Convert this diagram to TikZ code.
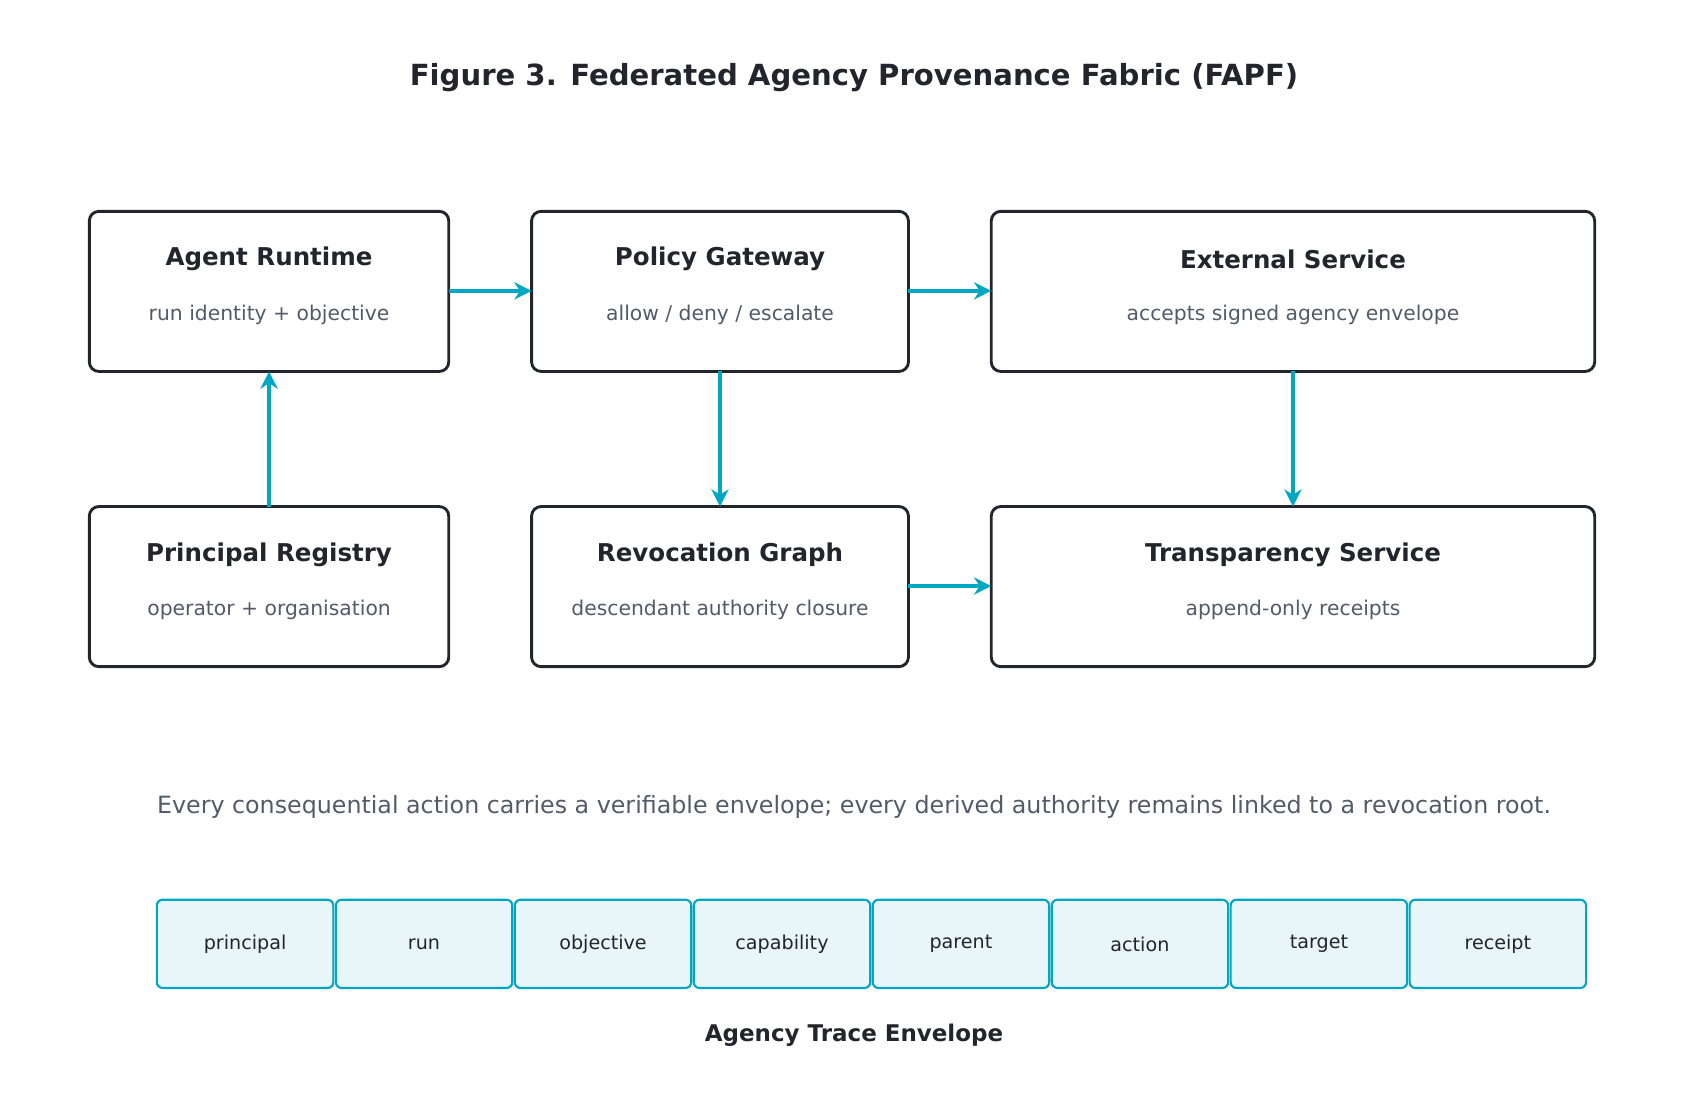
\documentclass[tikz,border=0pt]{standalone}
\usepackage{fontspec}
\setmainfont{DejaVu Sans}
\usetikzlibrary{arrows.meta}
\definecolor{ink}{HTML}{22252B}
\definecolor{sub}{HTML}{525B68}
\definecolor{cy}{HTML}{00A7C4}
\definecolor{chipbg}{HTML}{E8F6F9}
\tikzset{
 box/.style={draw=ink,line width=0.75pt,rounded corners=2.5pt,fill=white},
 chip/.style={draw=cy,line width=0.55pt,rounded corners=1.5pt,fill=chipbg},
 arr/.style={draw=cy,line width=0.9pt,-{Stealth[length=4.5pt,width=4.5pt]}},
}
\begin{document}
\begin{tikzpicture}[x=0.01cm,y=-0.01cm]
\useasboundingbox (0,0) rectangle (1568,1008);
\node[font=\bfseries\fontsize{7.6}{9}\selectfont,text=ink] (t) at (784,71) {Figure 3. Federated Agency Provenance Fabric (FAPF)};
\newcommand\mybox[6]{%
 \draw[box] (#2,#3) rectangle (#4,#3+147);
 \coordinate (#1) at ({(#2+#4)/2},#3+73);
 \coordinate (#1-n) at ({(#2+#4)/2},#3);
 \coordinate (#1-s) at ({(#2+#4)/2},#3+147);
 \coordinate (#1-w) at (#2,#3+73);
 \coordinate (#1-e) at (#4,#3+73);
 \node[font=\bfseries\fontsize{6.4}{8}\selectfont,text=ink] (#1-t) at ({(#2+#4)/2},#3+44) {#5};
 \node[font=\fontsize{5.3}{7}\selectfont,text=sub] (#1-d) at ({(#2+#4)/2},#3+95) {#6};}
\mybox{ar}{82}{194}{412}{Agent Runtime}{run identity + objective}
\mybox{pg}{488}{194}{834}{Policy Gateway}{allow / deny / escalate}
\mybox{es}{910}{194}{1464}{External Service}{accepts signed agency envelope}
\mybox{pr}{82}{465}{412}{Principal Registry}{operator + organisation}
\mybox{rg}{488}{465}{834}{Revocation Graph}{descendant authority closure}
\mybox{ts}{910}{465}{1464}{Transparency Service}{append-only receipts}
\draw[arr] (ar-e) -- (pg-w);
\draw[arr] (pg-e) -- (es-w);
\draw[arr] (pr-n) -- (ar-s);
\draw[arr] (pg-s) -- (rg-n);
\draw[arr] (es-s) -- (ts-n);
\draw[arr] (rg-e) -- (ts-w);
\node[font=\fontsize{6.2}{8}\selectfont,text=sub] (cap) at (784,741) {Every consequential action carries a verifiable envelope; every derived authority remains linked to a revocation root.};
\foreach \l [count=\i from 0] in {principal,run,objective,capability,parent,action,target,receipt}{
 \draw[chip] ({144+\i*164.3},826) rectangle ({306+\i*164.3},907);
 \node[font=\fontsize{5}{6}\selectfont,text=ink] (c\i) at ({225+\i*164.3},866.5) {\l};}
\node[font=\bfseries\fontsize{6}{8}\selectfont,text=ink] (env) at (784,950) {Agency Trace Envelope};
\end{tikzpicture}
\end{document}
